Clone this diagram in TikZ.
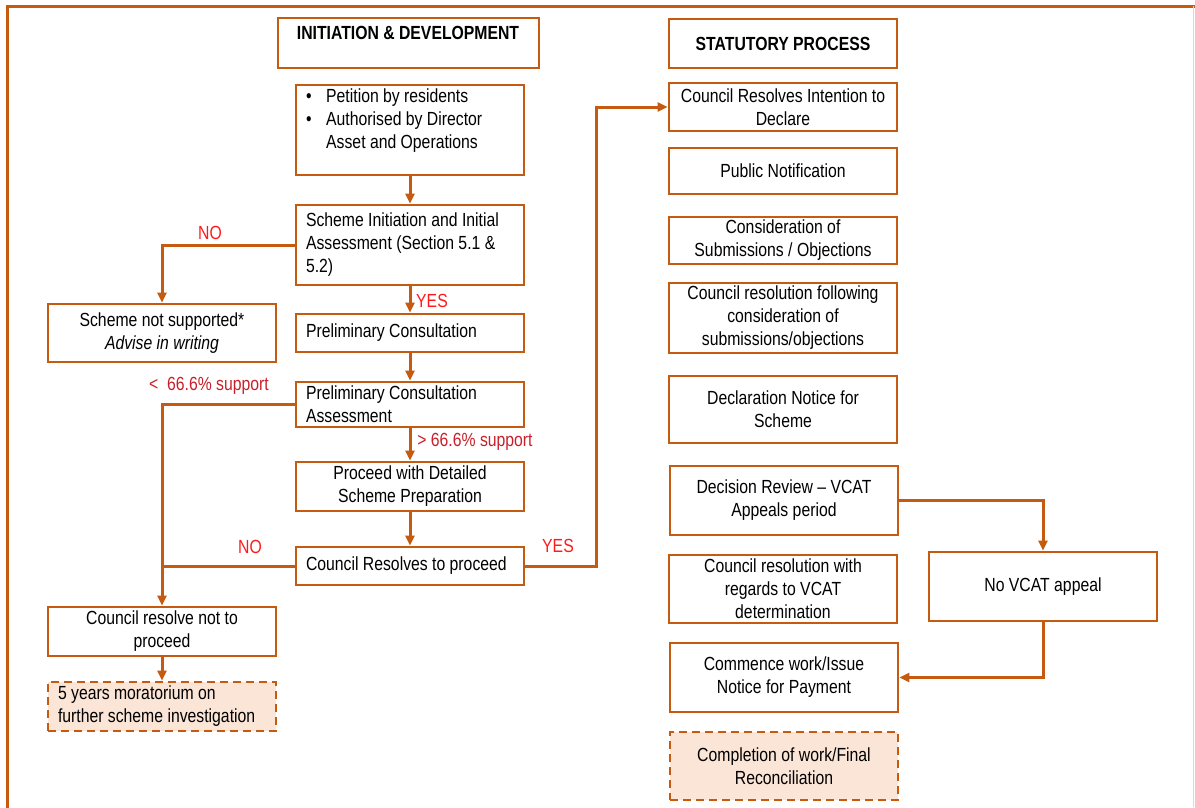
\documentclass[tikz,border=0pt]{standalone}
\usepackage{fontspec}
\setmainfont{Liberation Sans}[FakeStretch=0.83]
\usetikzlibrary{arrows.meta}
\definecolor{brd}{HTML}{C55A11}
\definecolor{peach}{HTML}{FBE5D6}
\definecolor{lblred}{HTML}{FF1A1A}
\definecolor{darkred}{HTML}{C8202A}
\tikzset{
  txt/.style={font=\fontsize{19}{23}\selectfont, inner sep=0pt},
  box/.style={txt, draw=brd, line width=2.9pt, fill=white, align=center, minimum width=228pt},
  lbox/.style={box, text width=208pt, inner xsep=10pt, align=flush left},
  dbox/.style={fill=peach, dash pattern=on 8pt off 5pt},
  conn/.style={draw=brd, line width=3pt},
  arr/.style={conn, -{Triangle[length=10pt,width=9pt]}},
  yesno/.style={txt, text=lblred},
  pct/.style={txt, text=darkred},
}
\begin{document}
\begin{tikzpicture}[x=1pt,y=-1pt]
\useasboundingbox (0,0) rectangle (1195,807);
% frame
\draw[brd, line width=3pt] (7,830) -- (7,6) -- (1200,6);
\draw[black!15, line width=1pt] (1193.5,6) -- (1193.5,807);

% left column
\node[box, minimum width=261pt, minimum height=50pt] (init) at (408.5,43) {};
\node[txt, font=\fontsize{19}{23}\selectfont\bfseries] (initt) at (408,33) {INITIATION \& DEVELOPMENT};
\node[box, minimum height=90pt] (petition) at (410,130) {};
\node[txt, anchor=west, align=flush left] (petitiont) at (306,121) {\makebox[20pt][l]{•}Petition by residents\\\makebox[20pt][l]{•}Authorised by Director\\\hspace*{20pt}Asset and Operations};
\node[lbox, minimum height=80pt] (scheme) at (410,245) {Scheme Initiation and Initial\\Assessment (Section 5.1 \&\\5.2)};
\node[box, minimum height=58pt] (notsup) at (162,333) {Scheme not supported*\\\textit{Advise in writing}};
\node[lbox, minimum height=38pt] (prelim) at (410,333) {Preliminary Consultation};
\node[lbox, minimum height=45pt] (assess) at (410,404.5) {Preliminary Consultation\\Assessment};
\node[box, minimum height=49pt] (proceed) at (410,486.5) {Proceed with Detailed\\Scheme Preparation};
\node[lbox, minimum height=38pt] (council) at (410,566) {Council Resolves to proceed};
\node[box, minimum height=49pt] (notproc) at (162,631.5) {Council resolve not to\\proceed};
\node[lbox, dbox, minimum height=49pt] (morat) at (162,706.5) {5 years moratorium on\\further scheme investigation};

% right column
\node[box, minimum height=49pt, font=\fontsize{19}{23}\selectfont\bfseries] (stat) at (783,43.5) {STATUTORY PROCESS};
\node[box, minimum height=48pt] (intent) at (783,107) {Council Resolves Intention to\\Declare};
\node[box, minimum height=46pt] (public) at (783,171) {Public Notification};
\node[box, minimum height=47pt] (consid) at (783,240.5) {Consideration of\\Submissions / Objections};
\node[box, minimum height=70pt] (follow) at (783,318) {Council resolution following\\consideration of\\submissions/objections};
\node[box, minimum height=67pt] (declar) at (783,409.5) {Declaration Notice for\\Scheme};
\node[box, minimum height=69pt] (decis) at (784,500.5) {Decision Review – VCAT\\Appeals period};
\node[box, minimum height=68pt] (regards) at (783,589) {Council resolution with\\regards to VCAT\\determination};
\node[box, minimum height=69pt] (novcat) at (1043,586.5) {No VCAT appeal};
\node[box, minimum height=69pt] (commence) at (784,677.5) {Commence work/Issue\\Notice for Payment};
\node[box, dbox, minimum height=68pt] (complete) at (784,766) {Completion of work/Final\\Reconciliation};

% connectors
\coordinate (turn) at (596,107);
\draw[arr] (petition.south) -- (scheme.north);
\draw[arr] (scheme.west) -| (notsup.north);
\draw[arr] (scheme.south) -- (prelim.north);
\draw[arr] (prelim.south) -- (assess.north);
\draw[arr] (assess.south) -- (proceed.north);
\draw[arr] (proceed.south) -- (council.north);
\draw[arr] (assess.west) -| (notproc.north);
\draw[conn] (council.west) -- (council.west -| notproc.north);
\draw[arr] (notproc.south) -- (morat.north);
\draw[arr] (council.east) -| (turn) -- (intent.west);
\draw[arr] (decis.east) -| (novcat.north);
\draw[arr] (novcat.south) |- (commence.east);

% labels
\node[yesno] (no1) at (210,233) {NO};
\node[yesno] (yes1) at (432,301) {YES};
\node[pct] (lt) at (209,386) {<\ \ 66.6\% support};
\node[pct] (gt) at (475,442) {> 66.6\% support};
\node[yesno] (no2) at (250,547) {NO};
\node[yesno] (yes2) at (558,546) {YES};
\end{tikzpicture}
\end{document}
